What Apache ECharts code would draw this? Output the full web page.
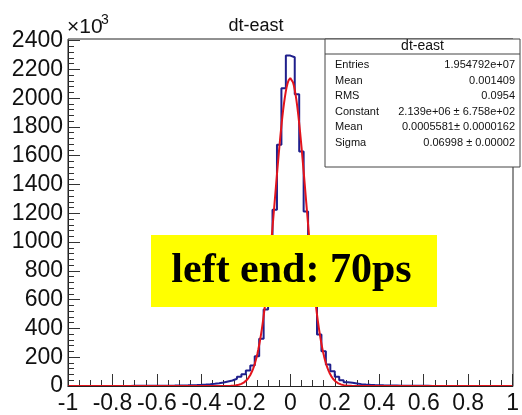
<!DOCTYPE html>
<html>
<head>
<meta charset="utf-8">
<script src="https://cdn.jsdelivr.net/npm/echarts@6/dist/echarts.min.js"></script>
<style>
  html, body { margin: 0; padding: 0; background: #ffffff; }
  #chart { width: 522px; height: 415px; }
</style>
</head>
<body>
<div id="chart"></div>
<script>
// Histogram binning of dt (ns): 100 bins over [-1, 1]
const histTitle = 'dt-east';
const xRange = [-1, 1];
const nBins = 100;

// Entries per bin, in units of 10^3, left to right
const countsLeft = [
  0.3, 0.3, 0.3, 0.4, 0.4, 0.4, 0.5, 0.5, 0.5, 0.6,
  0.6, 0.7, 0.7, 0.8, 0.9, 1.0, 1.1, 1.2, 1.4, 1.6,
  1.8, 2.1, 2.4, 2.8, 3.3, 3.9, 4.6, 5.5, 6.6, 8.0,
  9.8, 12, 15, 19, 24, 31, 38, 50, 64, 82,
  108, 142, 207, 328, 531, 870, 1225, 1676, 2069, 2296
];
const countsRight = [
  2284, 2027, 1629, 1213, 860, 580, 357, 241, 149, 103,
  64, 40, 26, 22, 17, 13, 10.5, 8.5, 7.0, 5.8,
  4.8, 4.0, 3.3, 2.8, 2.3, 2.0, 1.7, 1.4, 1.2, 1.0,
  0.9, 0.8, 0.7, 0.6, 0.5, 0.5, 0.4, 0.4, 0.4, 0.3,
  0.3, 0.3, 0.3, 0.2, 0.2, 0.2, 0.2, 0.2, 0.2, 0.2
];
const counts = countsLeft.concat(countsRight);

// Gaussian fit result (Constant in units of 10^3)
const fitConstant = 2139;
const fitMean = 0.0005581;
const fitSigma = 0.06998;

// Axis tick labels
const xTickLabels = ['-1', '-0.8', '-0.6', '-0.4', '-0.2', '0', '0.2', '0.4', '0.6', '0.8', '1'];
const yTickLabels = ['0', '200', '400', '600', '800', '1000', '1200', '1400', '1600', '1800', '2000', '2200', '2400'];

// Statistics box rows
const statsRows = [
  ['Entries', '1.954792e+07'],
  ['Mean', '0.001409'],
  ['RMS', '0.0954'],
  ['Constant', '2.139e+06 \u00b1 6.758e+02'],
  ['Mean', '0.0005581\u00b1 0.0000162'],
  ['Sigma', '0.06998 \u00b1 0.00002']
];

const noteText = 'left end: 70ps';

// ---- build series data ----
const binWidth = (xRange[1] - xRange[0]) / nBins;
const histData = counts.map((c, i) => [xRange[0] + i * binWidth, c]);
histData.push([xRange[1], counts[counts.length - 1]]);

const fitData = [];
for (let k = 0; k <= 500; k++) {
  const x = xRange[0] + k * (xRange[1] - xRange[0]) / 500;
  const z = (x - fitMean) / fitSigma;
  fitData.push([x, fitConstant * Math.exp(-0.5 * z * z)]);
}

const labelFont = 'Liberation Sans, Arial, Helvetica, sans-serif';
const axisColor = '#222';

const statsGraphics = [];
const boxL = 325, boxT = 39, boxW = 195, boxH = 128;
statsGraphics.push({
  type: 'rect', shape: { x: boxL, y: boxT, width: boxW, height: boxH },
  style: { fill: '#fff', stroke: '#444', lineWidth: 1 }, z: 10
});
statsGraphics.push({
  type: 'line', shape: { x1: boxL, y1: 54, x2: boxL + boxW, y2: 54 },
  style: { stroke: '#444', lineWidth: 1 }, z: 11
});
statsGraphics.push({
  type: 'text', x: boxL + boxW / 2, y: 46.5, z: 11,
  style: { text: histTitle, font: '14px ' + labelFont, fill: '#111', align: 'center', verticalAlign: 'middle' }
});
statsRows.forEach((r, i) => {
  const yy = 65 + i * 15.5;
  statsGraphics.push({
    type: 'text', x: boxL + 10, y: yy, z: 11,
    style: { text: r[0], font: '11px ' + labelFont, fill: '#111', align: 'left', verticalAlign: 'middle' }
  });
  statsGraphics.push({
    type: 'text', x: boxL + boxW - 5, y: yy, z: 11,
    style: { text: r[1], font: '11px ' + labelFont, fill: '#111', align: 'right', verticalAlign: 'middle' }
  });
});

const chart = echarts.init(document.getElementById('chart'), null, { renderer: 'canvas' });
chart.setOption({
  animation: false,
  backgroundColor: '#ffffff',
  grid: { left: 68, top: 40.6, width: 445, height: 345.9, containLabel: false },
  xAxis: {
    type: 'value', min: xRange[0], max: xRange[1], interval: 0.2,
    axisLine: { show: true, onZero: false, lineStyle: { color: axisColor, width: 1 } },
    axisTick: { show: true, inside: true, length: 12, lineStyle: { color: '#333' } },
    minorTick: { show: true, splitNumber: 4, length: 6, lineStyle: { color: '#333' } },
    splitLine: { show: false },
    axisLabel: {
      show: true, margin: 6, color: '#111', fontSize: 23, fontFamily: labelFont,
      formatter: v => xTickLabels[Math.round((v - xRange[0]) / 0.2)] || ''
    }
  },
  yAxis: {
    type: 'value', min: 0, max: 2400, interval: 200,
    axisLine: { show: true, onZero: false, lineStyle: { color: axisColor, width: 1 } },
    axisTick: { show: true, inside: true, length: 12, lineStyle: { color: '#333' } },
    minorTick: { show: true, splitNumber: 5, length: 6, lineStyle: { color: '#333' } },
    splitLine: { show: false },
    axisLabel: {
      show: true, margin: 5, color: '#111', fontSize: 23, fontFamily: labelFont,
      formatter: v => yTickLabels[Math.round(v / 200)] || ''
    }
  },
  series: [
    {
      type: 'line', data: histData, step: 'end', symbol: 'none',
      lineStyle: { color: '#1f1f8c', width: 2 }, z: 3, clip: true
    },
    {
      type: 'line', data: fitData, symbol: 'none', smooth: false,
      lineStyle: { color: '#e3141c', width: 2 }, z: 4, clip: true
    }
  ],
  graphic: [
    {
      type: 'rect', shape: { x: 68, y: 39, width: 445, height: 347.5 },
      style: { fill: 'none', stroke: axisColor, lineWidth: 1 }, z: 5, silent: true
    },
    {
      type: 'text', x: 256, y: 26,
      style: { text: histTitle, font: '18px ' + labelFont, fill: '#111', align: 'center', verticalAlign: 'middle' }
    },
    {
      type: 'text', x: 67, y: 27,
      style: { text: '\u00d710', font: '21px ' + labelFont, fill: '#111', align: 'left', verticalAlign: 'middle' }
    },
    {
      type: 'text', x: 101, y: 20,
      style: { text: '3', font: '14px ' + labelFont, fill: '#111', align: 'left', verticalAlign: 'middle' }
    },
    ...statsGraphics,
    {
      type: 'rect', shape: { x: 151, y: 235, width: 286, height: 72 },
      style: { fill: '#ffff00' }, z: 20
    },
    {
      type: 'text', x: 291.5, y: 271, z: 21,
      style: { text: noteText, font: 'bold 42px "Liberation Serif", "Times New Roman", serif', fill: '#000', align: 'center', verticalAlign: 'middle' }
    }
  ]
});
</script>
</body>
</html>
